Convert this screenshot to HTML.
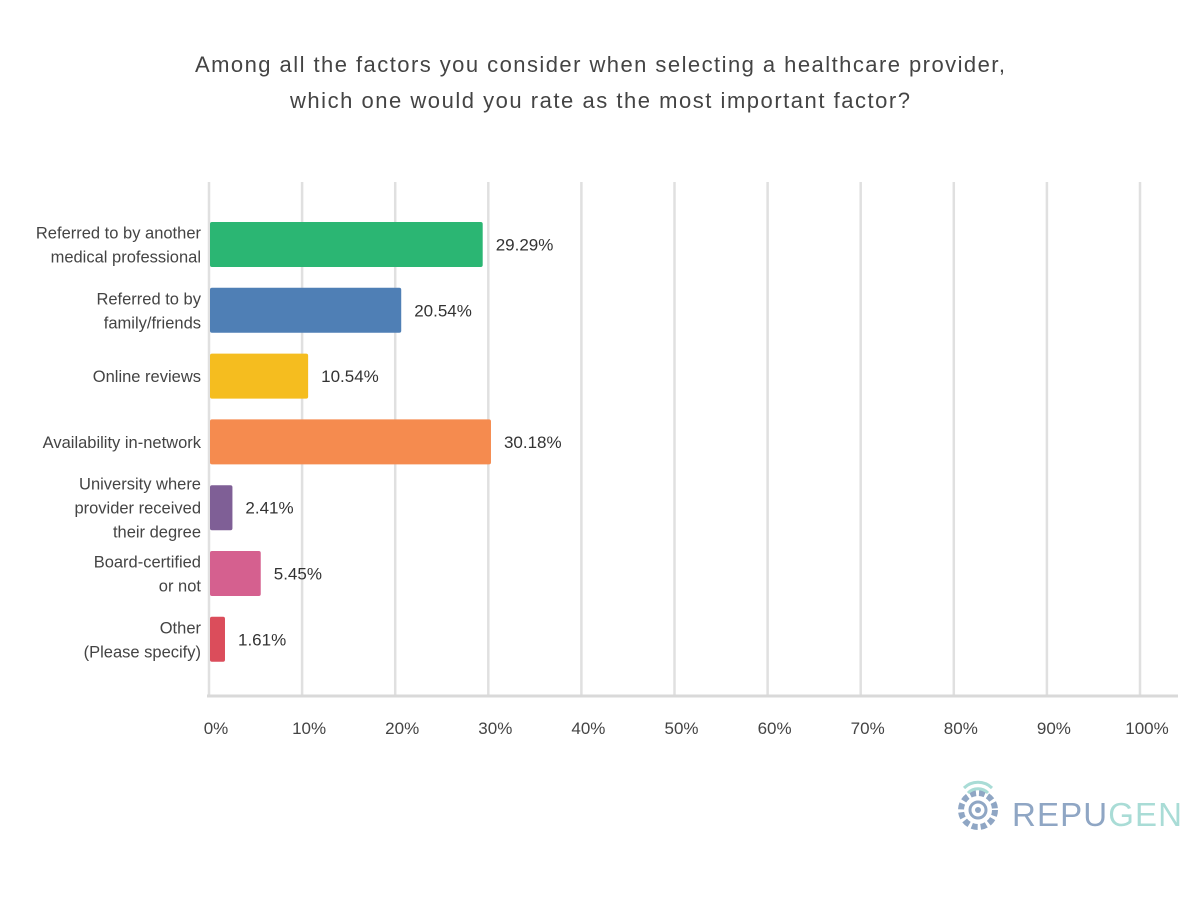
<!DOCTYPE html>
<html><head><meta charset="utf-8"><style>
body{margin:0;background:#fff;width:1200px;height:894px;overflow:hidden;font-family:"Liberation Sans",sans-serif;}
</style></head><body>
<svg id="chart" width="1200" height="894" xmlns="http://www.w3.org/2000/svg">
<text x="195" y="72" font-size="22" fill="#444" textLength="810" lengthAdjust="spacing">Among all the factors you consider when selecting a healthcare provider,</text>
<text x="290" y="108" font-size="22" fill="#444" textLength="620" lengthAdjust="spacing">which one would you rate as the most important factor?</text>
<g id="grid"></g><g id="bars"></g><g id="labels"></g>
<g>
<circle cx="978" cy="810" r="17" fill="none" stroke="#8fa6c4" stroke-width="6" stroke-dasharray="6 3"/>
<circle cx="978" cy="810" r="8" fill="none" stroke="#8fa6c4" stroke-width="3"/>
<circle cx="978" cy="810" r="3" fill="#8fa6c4"/>
<path d="M968 793 A14 14 0 0 1 988 793" fill="none" stroke="#a9dcd6" stroke-width="3"/>
<path d="M964 788 A20 20 0 0 1 992 788" fill="none" stroke="#a9dcd6" stroke-width="3"/>
<text x="1012" y="826" font-size="33" fill="#8fa6c4" textLength="170">REPU<tspan fill="#a9dcd6">GEN</tspan></text>
</g>
</svg>
<script>
const categories=[["Referred to by another","medical professional"],["Referred to by","family/friends"],["Online reviews"],["Availability in-network"],["University where","provider received","their degree"],["Board-certified","or not"],["Other","(Please specify)"]];
const values=[29.29,20.54,10.54,30.18,2.41,5.45,1.61];
const valueLabels=["29.29%","20.54%","10.54%","30.18%","2.41%","5.45%","1.61%"];
const colors=["#2bb673","#4f7fb5","#f5bd1f","#f58b4f","#7f5f96","#d5608f","#db4d5b"];
const ticks=[0,10,20,30,40,50,60,70,80,90,100];
const ns="http://www.w3.org/2000/svg";
const x0=209,x1=1140,yTop=182,yBottom=696,firstY=222,pitch=65.8,bh=45;
const xs=v=>x0+(x1-x0)*v/100;
function mk(t,a,p){const e=document.createElementNS(ns,t);for(const k in a)e.setAttribute(k,a[k]);p.appendChild(e);return e;}
const grid=document.getElementById('grid'),bars=document.getElementById('bars'),lab=document.getElementById('labels');
ticks.forEach(t=>{
 const l=mk('line',{x1:xs(t),x2:xs(t),y1:yTop,y2:yBottom,stroke:'#e0e0e0','stroke-width':2.5},grid);
 
 
 const tx=mk('text',{x:xs(t)+7,y:734,'text-anchor':'middle','font-size':17,fill:'#444'},grid);
 tx.textContent=t+'%';
 
 
});
const ax=mk('line',{x1:x0-2,x2:1178,y1:yBottom,y2:yBottom,stroke:'#d9d9d9','stroke-width':3},grid);


values.forEach((v,i)=>{
 const y=firstY+i*pitch;
 const r=mk('rect',{x:x0+1,y:y,width:xs(v)-x0,height:bh,rx:2,fill:colors[i]},bars);
 
 
 const vt=mk('text',{x:xs(v)+14,y:y+bh/2+6,'font-size':17,fill:'#333'},lab);
 vt.textContent=valueLabels[i];
 
 
 const lines=categories[i];const cy=y+bh/2;
 lines.forEach((s,j)=>{
  const ct=mk('text',{x:201,y:cy+6+(j-(lines.length-1)/2)*24,'text-anchor':'end','font-size':16.5,fill:'#444'},lab);
  ct.textContent=s;
  
  
 });
});
</script>
</body></html>
